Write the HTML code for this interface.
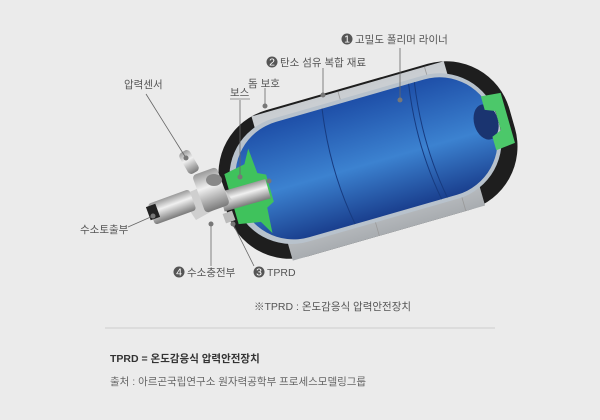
<!DOCTYPE html>
<html><head><meta charset="utf-8"><style>
html,body{margin:0;padding:0;background:#ebebeb;}
svg{display:block}
text{font-family:"Liberation Sans","Noto Sans CJK KR",sans-serif;fill:#555;font-size:10.5px}
</style></head><body>
<svg width="600" height="420" viewBox="0 0 600 420" xmlns="http://www.w3.org/2000/svg">
<defs>
<linearGradient id="blue" x1="0" y1="0" x2="0" y2="1">
<stop offset="0" stop-color="#1e4fa8"/><stop offset="0.55" stop-color="#3c82d0"/><stop offset="1" stop-color="#1a3f8e"/></linearGradient>
<linearGradient id="gray" x1="0" y1="0" x2="0" y2="1">
<stop offset="0" stop-color="#c8ccd0"/><stop offset="0.5" stop-color="#e2e4e6"/><stop offset="1" stop-color="#a8acb0"/></linearGradient>
<linearGradient id="metal" x1="0" y1="0" x2="0" y2="1">
<stop offset="0" stop-color="#9a9a9a"/><stop offset="0.4" stop-color="#f0f0f0"/><stop offset="1" stop-color="#7a7a7a"/></linearGradient>
</defs>
<rect width="600" height="420" fill="#ebebeb"/>
<g transform="translate(368,160) rotate(-16)">
  <rect x="-150" y="-76" width="300" height="152" rx="66" fill="#1e1e1e"/>
  <rect x="-100" y="-74" width="200" height="150" fill="url(#gray)"/>
  <line x1="-10" y1="-74" x2="-10" y2="76" stroke="#999" stroke-width="0.8"/>
  <line x1="80" y1="-74" x2="80" y2="76" stroke="#999" stroke-width="0.8"/>
  <rect x="-140" y="-66" width="276" height="128" rx="60" fill="#b8c2cc"/>
  <rect x="-134" y="-62" width="266" height="120" rx="56" fill="url(#blue)"/>
  <path d="M-30,-62 Q-40,0 -30,58" stroke="#173b80" fill="none" stroke-width="1"/>
  <path d="M60,-62 Q50,0 60,58" stroke="#173b80" fill="none" stroke-width="1"/>
  <path d="M66,-62 Q56,0 66,58" stroke="#173b80" fill="none" stroke-width="1"/>
  <ellipse cx="124" cy="-4" rx="12" ry="18" fill="#1a3470"/>
  <path d="M126,-30 L146,-28 L146,24 L126,26 L126,12 L136,8 L136,-12 L126,-16 Z" fill="#4cc86a"/>
  <path d="M-142,-26 L-120,-30 L-112,-44 L-110,-18 L-102,-14 L-102,14 L-110,18 L-112,44 L-120,30 L-142,26 Z" fill="#3fc25c"/>
  <rect x="-152" y="-10" width="48" height="20" fill="url(#metal)"/>
</g>
<g>
  <path d="M180,196 L218,180 L232,200 L196,220 Z" fill="#cfcfcf"/>
  <rect x="198" y="170" width="26" height="40" rx="4" fill="url(#metal)" transform="rotate(-20 211 190)"/>
  <rect x="150" y="196" width="44" height="22" rx="3" fill="url(#metal)" transform="rotate(-20 172 207)"/>
  <rect x="148" y="205" width="10" height="14" fill="#222" transform="rotate(-20 153 212)"/>
  <ellipse cx="214" cy="180" rx="8" ry="6" fill="#888"/>
  <rect x="183" y="150" width="12" height="24" rx="4" fill="url(#metal)" transform="rotate(-30 189 162)"/>
  <rect x="224" y="212" width="10" height="10" fill="#bbb" transform="rotate(-20 229 217)"/>
</g>
<g stroke="#666" stroke-width="0.8" fill="none">
  <line x1="400" y1="48" x2="400" y2="100"/>
  <line x1="323" y1="68" x2="323" y2="95"/>
  <line x1="265" y1="88" x2="265" y2="106"/>
  <line x1="240" y1="100" x2="240" y2="177"/>
  <line x1="146" y1="94" x2="186" y2="158"/>
  <line x1="128" y1="227" x2="153" y2="216"/>
  <line x1="211" y1="266" x2="211" y2="224"/>
  <line x1="254" y1="266" x2="233" y2="224"/>
</g>
<g fill="#777">
  <circle cx="400" cy="100" r="2.5"/><circle cx="323" cy="95" r="2.5"/><circle cx="265" cy="106" r="2.5"/>
  <circle cx="240" cy="177" r="2.5"/><circle cx="269" cy="181" r="2.5"/><circle cx="186" cy="158" r="2.5"/>
  <circle cx="153" cy="216" r="2.5"/><circle cx="211" cy="224" r="2.5"/><circle cx="233" cy="224" r="2.5"/>
</g>
<circle cx="347" cy="39" r="5.5" fill="#555"/><text x="347" y="42.5" font-size="8" text-anchor="middle" style="fill:#fff">1</text>
<text x="355" y="43">고밀도 폴리머 라이너</text>
<circle cx="272" cy="62" r="5.5" fill="#555"/><text x="272" y="65.5" font-size="8" text-anchor="middle" style="fill:#fff">2</text>
<text x="280" y="66">탄소 섬유 복합 재료</text>
<text x="248" y="87">돔 보호</text>
<text x="230" y="96">보스</text>
<line x1="230" y1="99" x2="250" y2="99" stroke="#777" stroke-width="0.7"/>
<text x="124" y="88">압력센서</text>
<text x="80" y="233">수소토출부</text>
<circle cx="179" cy="272" r="5.5" fill="#555"/><text x="179" y="275.5" font-size="8" text-anchor="middle" style="fill:#fff">4</text>
<text x="187" y="276">수소충전부</text>
<circle cx="259" cy="272" r="5.5" fill="#555"/><text x="259" y="275.5" font-size="8" text-anchor="middle" style="fill:#fff">3</text>
<text x="267" y="276">TPRD</text>
<text x="254" y="310" font-size="10">※TPRD :  온도감응식 압력안전장치</text>
<line x1="105" y1="328" x2="495" y2="328" stroke="#ccc" stroke-width="1"/>
<text x="110" y="362" font-size="11" font-weight="bold" style="fill:#333">TPRD = 온도감응식 압력안전장치</text>
<text x="110" y="385" font-size="11" style="fill:#666">출처 : 아르곤국립연구소 원자력공학부 프로세스모델링그룹</text>
</svg>
</body></html>
